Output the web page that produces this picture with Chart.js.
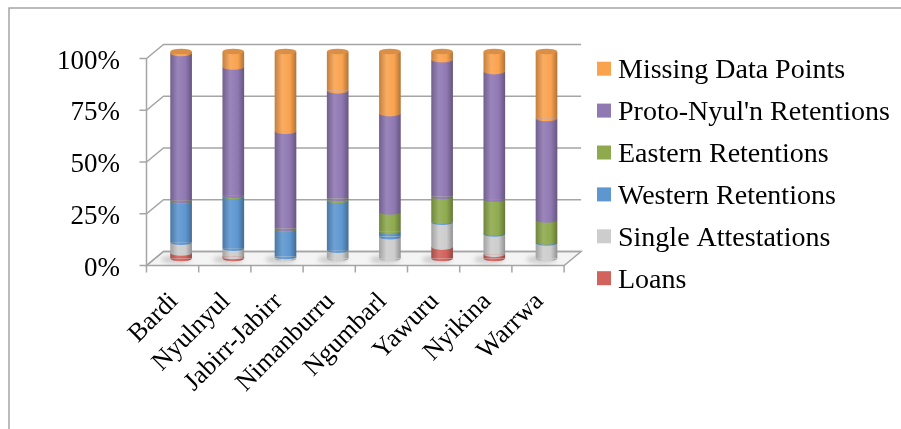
<!DOCTYPE html>
<html><head><meta charset="utf-8">
<script src="https://cdn.jsdelivr.net/npm/chart.js@4"></script>
<style>html,body{margin:0;padding:0;background:#fff;overflow:hidden}</style>
</head><body>
<canvas id="c" width="901" height="429"></canvas>
<script>
const categories = ['Bardi','Nyulnyul','Jabirr-Jabirr','Nimanburru','Ngumbarl','Yawuru','Nyikina','Warrwa'];
const loans = [2.7, 1, 0, 0, 0, 5.5, 2, 0];
const singleAttestations = [5.2, 4, 1, 4, 10.5, 12, 9.8, 7.5];
const westernRetentions = [19.8, 25, 13, 24, 2.5, 0.5, 0.5, 0.5];
const easternRetentions = [0.3, 0.5, 0.5, 1, 9.5, 12, 16.3, 10.6];
const protoNyulnRetentions = [71, 62, 47, 52, 47.5, 66, 61.7, 49];
const missingDataPoints = [1, 7.5, 38.5, 19, 30, 4, 9.7, 32.4];
const yTicks = [0, 25, 50, 75, 100];

const FONT = "'Liberation Serif', 'Times New Roman', serif";

function shade(hex, amt) {
  const n = parseInt(hex.slice(1), 16);
  let r = (n >> 16) & 255, g = (n >> 8) & 255, b = n & 255;
  const t = amt < 0 ? 0 : 255, p = Math.abs(amt);
  r = Math.round(r + (t - r) * p); g = Math.round(g + (t - g) * p); b = Math.round(b + (t - b) * p);
  return 'rgb(' + r + ',' + g + ',' + b + ')';
}
function cyl(color) {
  return (ctx) => {
    const chart = ctx.chart, xs = chart.scales.x;
    if (!xs || ctx.type !== 'data') return color;
    const cx = xs.getPixelForValue(ctx.dataIndex);
    if (!isFinite(cx)) return color;
    const w = 22;
    const g = chart.ctx.createLinearGradient(cx - w / 2, 0, cx + w / 2, 0);
    g.addColorStop(0, shade(color, -0.22));
    g.addColorStop(0.35, shade(color, 0.1));
    g.addColorStop(0.7, color);
    g.addColorStop(1, shade(color, -0.3));
    return g;
  };
}

const series = [
  { label: 'Loans', data: loans, color: '#D2625C' },
  { label: 'Single Attestations', data: singleAttestations, color: '#CDCDCD' },
  { label: 'Western Retentions', data: westernRetentions, color: '#5E97D0' },
  { label: 'Eastern Retentions', data: easternRetentions, color: '#8FAA4E' },
  { label: "Proto-Nyul'n Retentions", data: protoNyulnRetentions, color: '#9079B3' },
  { label: 'Missing Data Points', data: missingDataPoints, color: '#F9A34F' }
];

const DX = 8.5, DY = 7, RY = 2.8;

const frame3d = {
  id: 'frame3d',
  beforeDraw(chart) {
    const c = chart.ctx;
    c.save();
    c.strokeStyle = '#a5a5a5'; c.lineWidth = 1.5;
    c.beginPath(); c.moveTo(9, 429); c.lineTo(9, 8); c.lineTo(901, 8); c.stroke();
    c.restore();
  },
  beforeDatasetsDraw(chart) {
    const c = chart.ctx, ys = chart.scales.y, a = chart.chartArea;
    const fl = a.left - DX, fr = a.right - DX, bl = a.left + DX, br = a.right + DX;
    const yF = v => ys.getPixelForValue(v) + DY, yB = v => ys.getPixelForValue(v) - DY;
    c.save();
    c.lineWidth = 1.5; c.strokeStyle = '#a5a5a5';
    c.fillStyle = '#f4f4f4';
    c.beginPath(); c.moveTo(fl, yF(0)); c.lineTo(fr, yF(0)); c.lineTo(br, yB(0)); c.lineTo(bl, yB(0)); c.closePath();
    c.fill(); c.stroke();
    yTicks.forEach(v => {
      c.beginPath(); c.moveTo(fl - 7, yF(v)); c.lineTo(fl, yF(v)); c.lineTo(bl, yB(v)); c.lineTo(br, yB(v)); c.stroke();
    });
    c.beginPath(); c.moveTo(fl, yF(0)); c.lineTo(fl, yF(100)); c.stroke();
    const n = categories.length, step = (a.right - a.left) / n;
    for (let i = 0; i <= n; i++) {
      const x = fl + i * step;
      c.beginPath(); c.moveTo(x, yF(0)); c.lineTo(x, yF(0) + 7); c.stroke();
    }
    const xs = chart.scales.x;
    c.fillStyle = 'rgba(120,120,120,0.3)';
    c.filter = 'blur(2px)';
    categories.forEach((_, i) => {
      const x = xs.getPixelForValue(i);
      c.beginPath(); c.ellipse(x - 5, ys.getPixelForValue(0) + 1, 15, 4, 0, 0, Math.PI * 2); c.fill();
    });
    c.restore();
  },
  afterDatasetsDraw(chart) {
    const c = chart.ctx;
    const metas = chart.data.datasets.map((d, i) => chart.getDatasetMeta(i));
    c.save();
    metas.forEach(meta => {
      meta.data.forEach(el => {
        if (Math.abs(el.base - el.y) < 0.2) return;
        c.fillStyle = el.options.backgroundColor;
        c.beginPath(); c.ellipse(el.x, el.base, el.width / 2, RY, 0, 0, Math.PI); c.fill();
      });
    });
    categories.forEach((_, j) => {
      for (let i = metas.length - 1; i >= 0; i--) {
        const el = metas[i].data[j];
        if (Math.abs(el.base - el.y) >= 0.2) {
          c.fillStyle = shade(series[i].color, -0.12);
          c.beginPath(); c.ellipse(el.x, el.y, el.width / 2, RY, 0, 0, Math.PI * 2); c.fill();
          break;
        }
      }
    });
    c.restore();
  },
  afterDraw(chart) {
    const c = chart.ctx;
    c.save();
    c.font = '28px ' + FONT;
    c.textBaseline = 'alphabetic';
    const items = chart.data.datasets.slice().reverse();
    items.forEach((d, k) => {
      const cy = 68.7 + k * 41.9;
      c.fillStyle = d.legendColor;
      c.fillRect(597, cy - 7, 14, 14);
      c.fillStyle = '#000';
      c.fillText(d.label, 618, cy + 9.6);
    });
    c.restore();
  }
};

new Chart(document.getElementById('c'), {
  type: 'bar',
  data: {
    labels: categories,
    datasets: series.map(s => ({
      label: s.label, data: s.data, legendColor: s.color,
      backgroundColor: cyl(s.color), borderWidth: 0,
      barPercentage: 0.415, categoryPercentage: 1
    }))
  },
  options: {
    responsive: false, animation: false, devicePixelRatio: 1,
    layout: { padding: { left: 0, top: 51.5, right: 328.4, bottom: 0 } },
    plugins: { legend: { display: false }, tooltip: { enabled: false } },
    scales: {
      x: {
        stacked: true,
        grid: { display: false, drawTicks: false }, border: { display: false },
        ticks: { minRotation: 45, maxRotation: 45, autoSkip: false, padding: 28, labelOffset: -7,
                 font: { family: FONT, size: 26 }, color: '#000' },
        afterFit(s) { s.height = 429 - 258.5; }
      },
      y: {
        stacked: true, min: 0, max: 100,
        grid: { display: false, drawTicks: false }, border: { display: false },
        afterBuildTicks(s) { s.ticks = yTicks.map(v => ({ value: v })); },
        ticks: { callback: v => v + '%', padding: 35, labelOffset: 10,
                 font: { family: FONT, size: 27 }, color: '#000' },
        afterFit(s) { s.width = 155; }
      }
    }
  },
  plugins: [frame3d]
});
</script>
</body></html>
